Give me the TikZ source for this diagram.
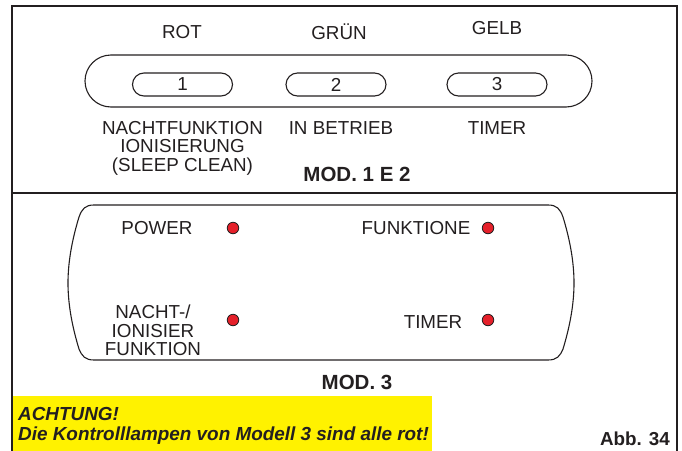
\documentclass[tikz,border=0pt]{standalone}
\usepackage{fontspec}
\setmainfont{Liberation Sans}
\usetikzlibrary{positioning}
\definecolor{ink}{HTML}{231F20}
\definecolor{lampred}{HTML}{E5202A}
\definecolor{notegelb}{HTML}{FFF200}

\begin{document}
\begin{tikzpicture}[x=1pt,y=-1pt,
        txt/.style={inner sep=0pt,align=center,text=ink,font=\fontsize{18.8}{18.6}\selectfont},
        head/.style={inner sep=0pt,text=ink,font=\fontsize{20.5}{22}\selectfont\bfseries},
        button/.style={draw=ink,line width=1.1pt,rounded corners=11.5pt,minimum width=100pt,minimum height=23pt,inner sep=0pt,text=ink,font=\fontsize{18.8}{18}\selectfont},
        lamp/.style={circle,draw=ink,fill=lampred,line width=0.8pt,minimum size=11.5pt,inner sep=0pt},
        note/.style={inner sep=0pt,anchor=base west,text=ink,font=\fontsize{18.9}{20}\selectfont\bfseries\itshape},
        node distance=8mm and 7mm]
        \useasboundingbox (0,0) rectangle (682,450);
        % Rahmen
        \draw[ink,line width=2.5pt] (12,456) -- (12,6) -- (677,6) -- (677,456);
        \draw[ink,line width=2.5pt] (12,193) -- (677,193);
        % Mod. 1 e 2
        \node[draw=ink,line width=1.1pt,rounded corners=26pt,minimum width=507pt,minimum height=52pt] (leiste) at (338.5,81) {};
        \node[button] (knopf1) at (182.5,84.5) {1};
        \node[button] (knopf2) at (336,84.5) {2};
        \node[button] (knopf3) at (497,84.5) {3};
        \node[txt] (rot) at (182,32) {ROT};
        \node[txt] (gruen) at (339,32) {GRÜN};
        \node[txt] (gelb) at (497,28) {GELB};
        \node[txt] (nacht) at (182.5,148) {NACHTFUNKTION\\IONISIERUNG\\(SLEEP CLEAN)};
        \node[txt] (betrieb) at (341,128) {IN BETRIEB};
        \node[txt] (timer) at (497,128) {TIMER};
        \node[head] (mod12) at (357,174) {MOD. 1 E 2};
        % Mod. 3
        \draw[ink,line width=1.1pt] (94,205) -- (548,205)
            .. controls (557,205) and (560,209) .. (563,217)
            .. controls (570,240) and (574,262) .. (574,283)
            .. controls (574,304) and (570,326) .. (563,349)
            .. controls (560,356) and (557,360) .. (548,360) -- (94,360)
            .. controls (85,360) and (82,356) .. (79,349)
            .. controls (72,326) and (68,304) .. (68,283)
            .. controls (68,262) and (72,240) .. (79,217)
            .. controls (82,209) and (85,205) .. (94,205) -- cycle;
        \node[txt] (power) at (157,228) {POWER};
        \node[lamp] (lpower) at (233,228) {};
        \node[txt] (funktione) at (416,228) {FUNKTIONE};
        \node[lamp] (lfunktione) at (488,228) {};
        \node[txt] (ionisier) at (153,330.5) {NACHT-/\\IONISIER\\FUNKTION};
        \node[lamp] (lionisier) at (233,320) {};
        \node[txt] (timer3) at (433,322) {TIMER};
        \node[lamp] (ltimer3) at (488,320) {};
        \node[head] (mod3) at (357,382) {MOD. 3};
        % Hinweis
        \fill[notegelb] (13,396) rectangle (432,456);
        \node[note] (achtung) at (18,420) {ACHTUNG!};
        \node[note] (hinweis) at (18,440) {Die Kontrolllampen von Modell 3 sind alle rot!};
        \node[inner sep=0pt,anchor=base east,text=ink,font=\fontsize{18.8}{20}\selectfont\bfseries] (abb) at (670,445) {Abb. 34};
    \end{tikzpicture}
\end{document}
